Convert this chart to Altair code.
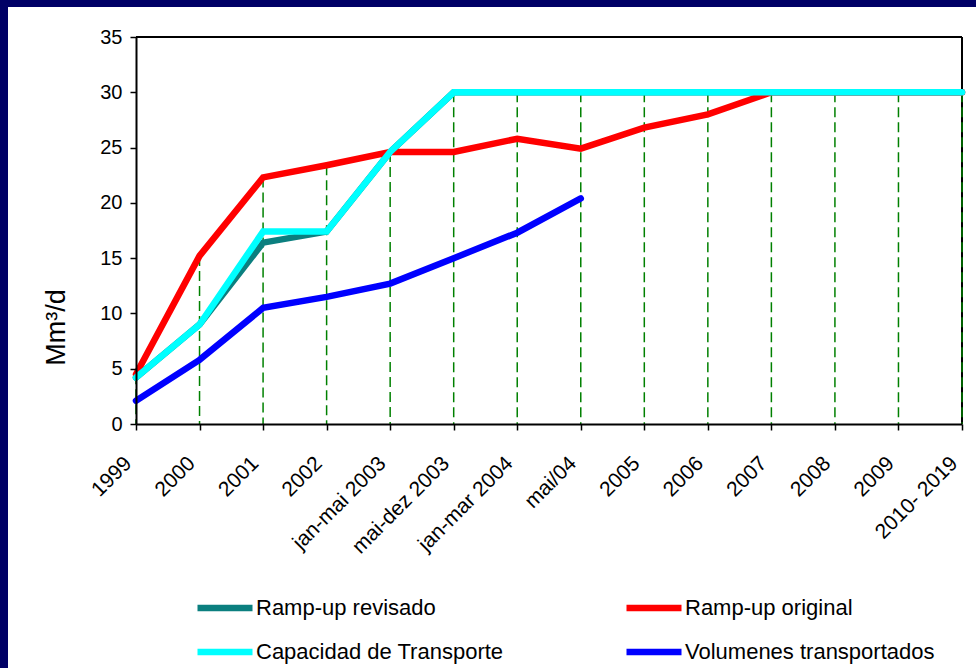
import altair as alt
import pandas as pd

# Categories on the x axis
periods = ["1999", "2000", "2001", "2002", "jan-mai 2003", "mai-dez 2003",
           "jan-mar 2004", "mai/04", "2005", "2006", "2007", "2008", "2009",
           "2010- 2019"]

# Series values (Mm³/d)
ramp_revisado = [4.2, 9.0, 16.4, 17.4, 24.6, 30, 30, 30, 30, 30, 30, 30, 30, 30]
ramp_original = [4.5, 15.2, 22.3, 23.4, 24.6, 24.6, 25.8, 24.9, 26.8, 28.0, 30, 30, 30, 30]
capacidad = [4.2, 9.0, 17.4, 17.4, 24.6, 30, 30, 30, 30, 30, 30, 30, 30, 30]
volumenes = [2.1, 5.8, 10.5, 11.5, 12.7, 15.0, 17.3, 20.4]

series_names = ["Ramp-up revisado", "Ramp-up original",
                "Capacidad de Transporte", "Volumenes transportados"]
series_colors = ["#0b7f7f", "#ff0000", "#00ffff", "#0000ff"]

FONT = "Liberation Sans, Arial, sans-serif"

# Long table; row order sets the drawing order of the lines
rows = []
for name, vals in [("Ramp-up revisado", ramp_revisado),
                   ("Ramp-up original", ramp_original),
                   ("Volumenes transportados", volumenes),
                   ("Capacidad de Transporte", capacidad)]:
    for i, v in enumerate(vals):
        rows.append({"periodo": periods[i], "serie": name, "valor": v, "idx": i})
df = pd.DataFrame(rows)

# Drop lines from the highest value of each period down to zero
drop = df.groupby("periodo", sort=False)["valor"].max().reset_index()
drop["base"] = 0

x_scale = alt.Scale(type="point", padding=0)
y_scale = alt.Scale(domain=[0, 35], nice=False, zero=True)

x_enc = alt.X("periodo:N", sort=periods, scale=x_scale,
              axis=alt.Axis(title=None, labelAngle=-45, labelAlign="right",
                            labelBaseline="middle", labelPadding=30,
                            labelOffset=-8, labelFont=FONT, labelFontSize=21,
                            labelColor="#000000", tickColor="#000000",
                            tickSize=6, tickWidth=1.5, domainColor="#000000",
                            domainWidth=2, grid=False, zindex=1))

one = pd.DataFrame({"k": [0]})

# White sheet behind the chart, leaving the navy edge at top and left
sheet = alt.Chart(one).mark_rect(color="#ffffff").encode(
    x=alt.value(-128), x2=alt.value(900), y=alt.value(-30), y2=alt.value(700))

# Top and right edges of the plotting area
frame = alt.Chart(one).mark_rule(color="#000000", strokeWidth=2).encode(
    x=alt.value(0), x2=alt.value(826), y=alt.value(0))
frame_r = alt.Chart(one).mark_rule(color="#000000", strokeWidth=2).encode(
    x=alt.value(826), y=alt.value(0), y2=alt.value(387))

drops = alt.Chart(drop).mark_rule(
    color="#008000", strokeWidth=1.5, strokeDash=[10, 5]
).encode(
    x=alt.X("periodo:N", sort=periods, scale=x_scale),
    y=alt.Y("valor:Q", scale=y_scale),
    y2="base:Q",
)

lines = alt.Chart(df).mark_line(strokeWidth=6.5, strokeCap="round").encode(
    x=x_enc,
    y=alt.Y("valor:Q", scale=y_scale,
            axis=alt.Axis(title="Mm³/d", values=[0, 5, 10, 15, 20, 25, 30, 35],
                          labelFont=FONT, labelFontSize=20, labelColor="#000000",
                          labelPadding=8, tickSize=6, tickWidth=1.5,
                          tickColor="#000000", domainColor="#000000",
                          domainWidth=2, grid=False, titleFont=FONT,
                          titleFontSize=27, titleFontWeight="normal",
                          titleColor="#000000", titleAngle=-90,
                          titleX=-80, titleY=290, titleAlign="center",
                          titleBaseline="middle", zindex=1)),
    color=alt.Color("serie:N", sort=series_names,
                    scale=alt.Scale(domain=series_names, range=series_colors),
                    legend=alt.Legend(title=None, orient="none", legendX=58,
                                      legendY=540, columns=2, direction="horizontal",
                                      symbolType="stroke", symbolSize=3025,
                                      symbolStrokeWidth=6.5, labelOffset=0,
                                      labelFont=FONT, labelFontSize=22,
                                      labelColor="#000000", labelLimit=400,
                                      columnPadding=109, rowPadding=-3,
                                      zindex=1)),
    detail="serie:N",
    order="idx:Q",
)

chart = alt.layer(sheet, frame, frame_r, drops, lines).properties(
    width=826, height=387,
    autosize=alt.AutoSizeParams(type="none"),
    padding={"left": 136, "top": 37, "right": 14, "bottom": 244},
    background="#000066",
).configure_view(stroke="#000000", strokeWidth=2)

chart.save("out.html", embed_options={"renderer": "svg", "actions": False})
